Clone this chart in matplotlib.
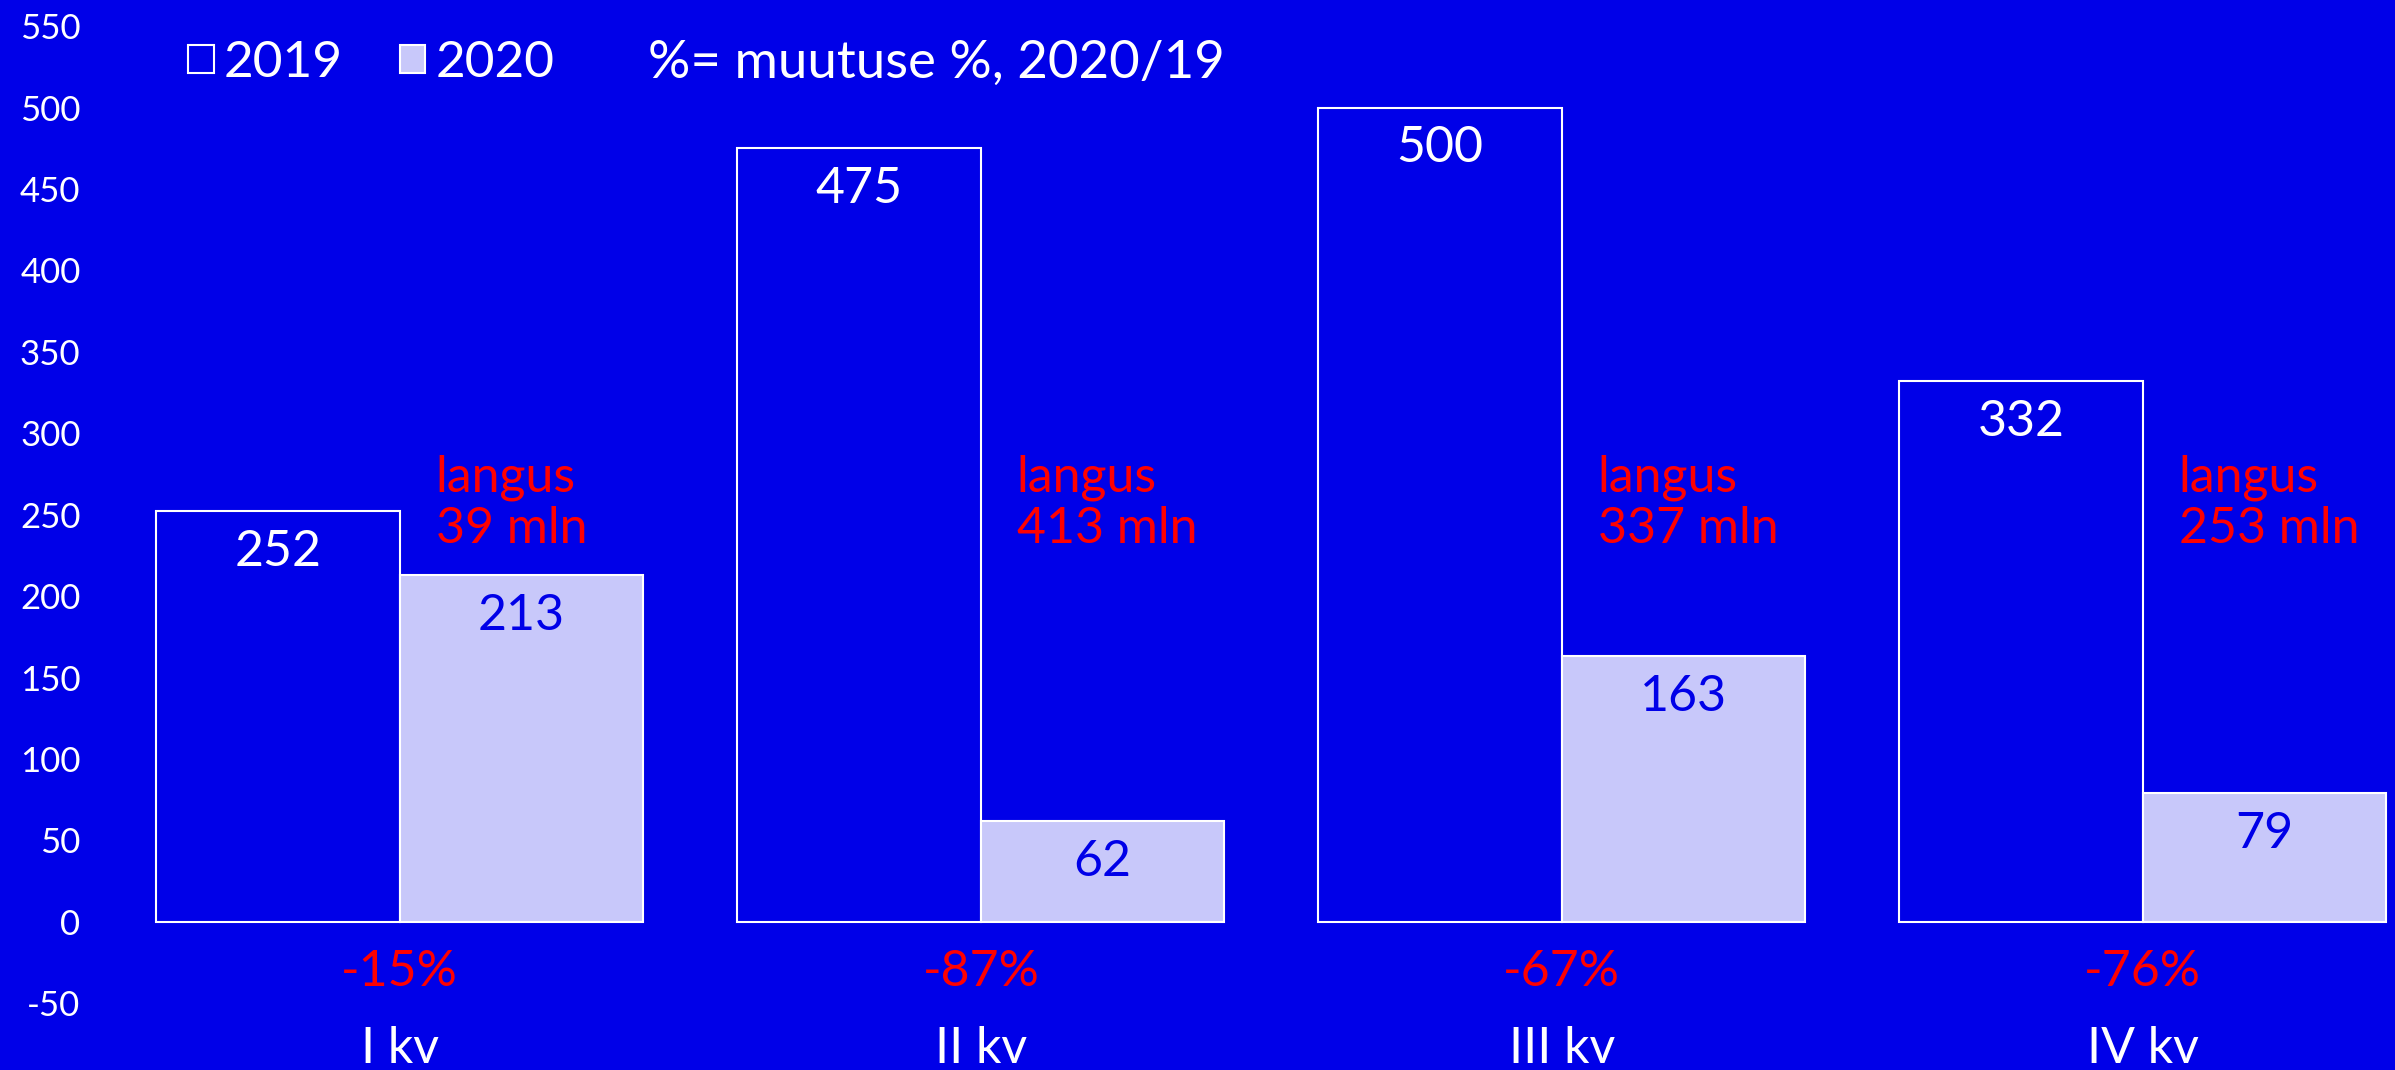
import matplotlib
matplotlib.use("Agg")
import matplotlib.pyplot as plt
import numpy as np
from matplotlib.patches import Patch

plt.rcParams['font.family'] = ['Lato', 'DejaVu Sans']
plt.rcParams['axes.unicode_minus'] = False

# data
quarters = ['I kv', 'II kv', 'III kv', 'IV kv']
v2019 = [252, 475, 500, 332]
v2020 = [213, 62, 163, 79]
drop_mln = [39, 413, 337, 253]
change_pct = [-15, -87, -67, -76]
yticks = list(range(-50, 551, 50))

bg = '#0000e8'
light = '#c8c8fa'
red = '#ff0000'

fig = plt.figure(figsize=(23.95, 10.70), dpi=100)
fig.patch.set_facecolor(bg)
ax = fig.add_axes([100/2395, 0, 2295/2395, 1])
ax.set_facecolor(bg)

x = np.arange(len(quarters))
w = 0.419
b1 = ax.bar(x - w/2, v2019, w, color=bg, edgecolor='white', linewidth=1.5)
b2 = ax.bar(x + w/2, v2020, w, color=light, edgecolor='white', linewidth=1.5)

fs = 36
for i in range(len(quarters)):
    ax.text(x[i] - w/2, v2019[i] - 25, str(v2019[i]), ha='center', va='center',
            color='white', fontsize=fs)
    ax.text(x[i] + w/2, v2020[i] - 25, str(v2020[i]), ha='center', va='center',
            color=bg, fontsize=fs)
    ax.text(x[i] + 0.062, 257, 'langus\n%d mln' % drop_mln[i], ha='left', va='center',
            color=red, fontsize=fs, linespacing=1.15)
    ax.text(x[i], -31, '%d%%' % change_pct[i], ha='center', va='center',
            color=red, fontsize=fs)
    ax.text(x[i], -78, quarters[i], ha='center', va='center',
            color='white', fontsize=fs, clip_on=False)

ax.set_xlim(-0.516, 3.434)
ax.set_ylim(-90.9, 566)
ax.set_yticks(yticks)
ax.set_yticklabels([str(t) for t in yticks])
ax.set_xticks([])
ax.tick_params(axis='y', length=0, pad=14, colors='white', labelsize=25)
for s in ax.spines.values():
    s.set_visible(False)

handles = [Patch(facecolor=bg, edgecolor='white', linewidth=1.5),
           Patch(facecolor=light, edgecolor='white', linewidth=1.5)]
leg = ax.legend(handles, ['2019', '2020'], loc='center left',
                bbox_to_anchor=(0.0383, 0.941), ncol=2, frameon=False,
                fontsize=37, handlelength=0.5, handleheight=0.46,
                handletextpad=0.2, columnspacing=1.1, borderpad=0, borderaxespad=0)
for t in leg.get_texts():
    t.set_color('white')
fig.text(648/2395, 1 - 63/1070, '%= muutuse %, 2020/19', ha='left', va='center',
         color='white', fontsize=38)

fig.savefig('out.png', dpi=100, facecolor=bg)
